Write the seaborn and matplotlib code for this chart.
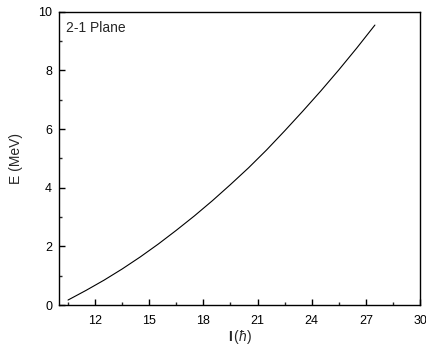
import matplotlib
matplotlib.use("Agg")
import matplotlib.pyplot as plt
from matplotlib.ticker import MultipleLocator
import seaborn as sns
import pandas as pd

# === Данные ===
spin = [10.5, 11.5, 12.5, 13.5, 14.5, 15.5, 16.5, 17.5, 18.5,
        19.5, 20.5, 21.5, 22.5, 23.5, 24.5, 25.5, 26.5, 27.5]
energy = [0.17, 0.50, 0.85, 1.23, 1.64, 2.08, 2.55, 3.04, 3.56,
          4.11, 4.68, 5.29, 5.94, 6.61, 7.30, 8.02, 8.77, 9.55]
band_label = "2-1 Plane"

sns.set_style("ticks")
plt.rcParams.update({
    'font.family': ['Liberation Sans', 'DejaVu Sans'],
    'font.size': 9,
    'mathtext.fontset': 'custom',
    'mathtext.rm': 'Liberation Sans',
    'mathtext.it': 'Liberation Sans:italic',
    'mathtext.bf': 'Liberation Sans:bold',
    'axes.edgecolor': 'black',
    'axes.linewidth': 1.0,
    'xtick.direction': 'in',
    'ytick.direction': 'in',
})

df = pd.DataFrame({'I': spin, 'E': energy})

fig = plt.figure(figsize=(4.26, 3.49), dpi=100)
ax = fig.add_axes([0.1385, 0.126, 0.8475, 0.84])
sns.lineplot(data=df, x='I', y='E', ax=ax, color='black', linewidth=0.8)

ax.set_xlim(10, 30)
ax.set_ylim(0, 10)
ax.xaxis.set_major_locator(MultipleLocator(3))
ax.xaxis.set_minor_locator(MultipleLocator(1.5))
ax.yaxis.set_major_locator(MultipleLocator(2))
ax.yaxis.set_minor_locator(MultipleLocator(1))
ax.tick_params(which='major', length=4, width=1.0, labelsize=9, colors='black')
ax.tick_params(axis='x', pad=7)
ax.tick_params(axis='y', pad=5)
ax.tick_params(which='minor', length=2.5, width=1.0)
ax.tick_params(top=False, right=False, which='both')

ax.set_xlabel(r'$\mathbf{I}\,(\hbar)$', fontsize=10, labelpad=1)
ax.set_ylabel('E (MeV)', fontsize=10, labelpad=11)
ax.text(0.02, 0.97, band_label, transform=ax.transAxes, ha='left', va='top', fontsize=10)

fig.savefig("out.png", dpi=100)
plt.close()
